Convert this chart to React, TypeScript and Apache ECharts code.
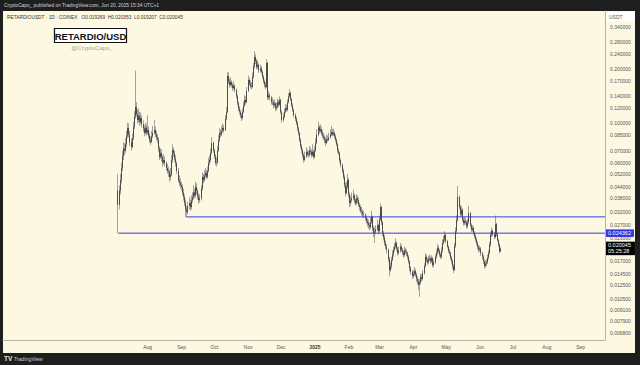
import React, { useEffect, useRef } from "react";
import * as echarts from "echarts";

// Prices below are in units of 0.0001 USDT, one entry per daily candle from 2024-07-05
const UNIT = 1e-4;
const FIRST_DAY_UTC = Date.UTC(2024, 6, 5);
const DAY_MS = 86400000;
const FIRST_OPEN = 420;

const close = [
  350, 420, 481, 560, 650, 720, 700, 760, 850, 935,
  860, 780, 733, 820, 950, 1080, 1222, 1120, 1035, 1090,
  1010, 1062, 980, 930, 877, 940, 880, 911, 850, 800,
  782, 840, 880, 911, 860, 830, 802, 720, 645, 680,
  640, 600, 620, 597, 560, 540, 533, 500, 513, 620,
  706, 680, 630, 597, 540, 480, 463, 450, 440, 410,
  387, 360, 330, 319, 345, 358, 340, 370, 387, 410,
  395, 440, 420, 390, 372, 380, 430, 500, 480, 510,
  526, 500, 540, 597, 620, 680, 772, 700, 650, 597,
  600, 700, 800, 877, 860, 900, 935, 910, 1050, 1147,
  1818, 1700, 1620, 1680, 1620, 1560, 1600, 1520, 1400, 1287,
  1200, 1150, 1100, 1062, 1150, 1250, 1337, 1300, 1500, 1727,
  1650, 1600, 1580, 1800, 2050, 2317, 2200, 2041, 2100, 1950,
  2000, 1913, 1800, 1700, 1620, 1580, 2146, 1380, 1420, 1380,
  1300, 1303, 1250, 1280, 1200, 1222, 1300, 1260, 1337, 1150,
  1035, 1080, 1150, 1207, 1180, 1300, 1400, 1463, 1350, 1250,
  1177, 1100, 1050, 997, 930, 877, 800, 740, 706, 660,
  621, 650, 688, 670, 662, 700, 688, 660, 690, 645,
  700, 772, 860, 945, 900, 920, 877, 850, 824, 800,
  772, 810, 802, 830, 860, 888, 860, 877, 840, 802,
  760, 700, 680, 620, 582, 540, 500, 450, 407, 440,
  481, 400, 358, 370, 382, 395, 370, 358, 380, 372,
  350, 340, 325, 319, 310, 307, 295, 285, 277, 270,
  263, 280, 300, 260, 244, 248, 255, 270, 250, 290,
  340, 280, 244, 230, 215, 205, 197, 175, 152, 160,
  173, 185, 197, 205, 215, 200, 189, 195, 205, 197,
  190, 184, 195, 192, 188, 180, 170, 156, 148, 141,
  145, 150, 143, 136, 132, 126, 130, 139, 136, 146,
  160, 180, 172, 168, 175, 177, 170, 177, 162, 168,
  180, 189, 202, 195, 185, 180, 195, 215, 225, 238,
  220, 205, 195, 189, 178, 171, 160, 152, 207, 250,
  288, 387, 340, 310, 328, 290, 277, 285, 280, 266,
  280, 315, 270, 254, 260, 245, 235, 225, 215, 205,
  197, 200, 188, 180, 170, 160, 165, 168, 178, 189,
  210, 238, 251, 240, 232, 273, 240, 223, 210, 192.69,
  200.45,
];

const high = [
  520, 450, 520, 600, 700, 780, 770, 820, 900, 1000,
  990, 900, 820, 870, 1010, 1160, 1950, 1300, 1180, 1200,
  1150, 1140, 1100, 1030, 970, 1000, 980, 1100, 950, 880,
  840, 900, 960, 1040, 950, 900, 870, 830, 740, 720,
  710, 660, 670, 650, 610, 590, 570, 550, 560, 660,
  760, 730, 700, 660, 610, 560, 510, 490, 470, 455,
  430, 400, 375, 345, 365, 385, 375, 395, 410, 450,
  430, 470, 460, 430, 405, 400, 450, 530, 520, 545,
  560, 545, 570, 640, 660, 720, 830, 790, 720, 670,
  640, 740, 850, 930, 920, 960, 990, 970, 1100, 1220,
  1920, 1900, 1760, 1790, 1720, 1660, 1700, 1640, 1550, 1430,
  1310, 1240, 1180, 1130, 1200, 1310, 1420, 1400, 1580, 1830,
  1780, 1720, 1680, 1900, 2150, 2500, 2400, 2260, 2220, 2150,
  2100, 2060, 1960, 1840, 1740, 1680, 2250, 2180, 1500, 1460,
  1410, 1380, 1340, 1350, 1300, 1290, 1360, 1340, 1400, 1360,
  1170, 1130, 1200, 1270, 1260, 1350, 1460, 1530, 1490, 1380,
  1280, 1200, 1130, 1080, 1020, 950, 890, 820, 760, 720,
  680, 690, 730, 710, 700, 740, 730, 710, 760, 710,
  740, 820, 920, 1010, 970, 980, 950, 910, 880, 850,
  830, 860, 850, 880, 920, 960, 920, 930, 900, 860,
  820, 775, 720, 690, 635, 595, 555, 515, 465, 470,
  520, 495, 410, 395, 410, 425, 405, 380, 400, 395,
  385, 360, 350, 340, 330, 325, 315, 305, 295, 290,
  280, 300, 325, 305, 268, 262, 270, 290, 275, 305,
  355, 345, 285, 250, 238, 222, 212, 200, 180, 168,
  180, 195, 205, 215, 228, 220, 205, 205, 215, 210,
  202, 196, 205, 202, 198, 192, 184, 173, 160, 152,
  152, 158, 154, 147, 140, 136, 135, 145, 144, 152,
  166, 188, 186, 178, 182, 186, 181, 184, 180, 174,
  186, 197, 212, 208, 199, 190, 203, 225, 235, 250,
  242, 224, 208, 199, 192, 182, 174, 164, 215, 262,
  305, 445, 395, 350, 345, 335, 298, 300, 295, 288,
  292, 345, 320, 276, 270, 266, 250, 240, 230, 220,
  210, 208, 204, 192, 184, 174, 172, 175, 185, 196,
  218, 248, 262, 256, 246, 305, 278, 244, 226, 214,
  203.53,
];

const low = [
  243.62, 330, 400, 460, 540, 620, 660, 680, 730, 820,
  830, 740, 700, 720, 800, 920, 1050, 1080, 990, 1000,
  960, 980, 940, 890, 840, 860, 850, 860, 820, 770,
  750, 770, 820, 860, 830, 800, 770, 690, 620, 630,
  610, 570, 585, 570, 540, 520, 500, 470, 480, 505,
  600, 650, 610, 570, 520, 465, 445, 430, 420, 395,
  370, 345, 300, 305, 310, 330, 325, 330, 360, 375,
  380, 385, 400, 375, 355, 360, 370, 420, 460, 470,
  495, 485, 490, 530, 580, 605, 665, 680, 630, 580,
  570, 590, 690, 780, 830, 840, 880, 880, 900, 1030,
  1130, 1640, 1560, 1590, 1570, 1500, 1530, 1470, 1360, 1250,
  1160, 1110, 1060, 1020, 1040, 1130, 1220, 1260, 1280, 1480,
  1600, 1550, 1530, 1560, 1760, 2000, 2120, 1980, 1990, 1890,
  1900, 1860, 1750, 1650, 1570, 1530, 1560, 1340, 1340, 1330,
  1260, 1250, 1200, 1220, 1160, 1170, 1200, 1220, 1240, 1120,
  1000, 1010, 1060, 1130, 1150, 1160, 1280, 1380, 1320, 1220,
  1150, 1070, 1020, 970, 900, 850, 780, 720, 680, 640,
  600, 610, 635, 650, 640, 650, 665, 640, 650, 625,
  635, 690, 760, 840, 870, 880, 850, 820, 800, 770,
  740, 760, 780, 790, 815, 845, 840, 845, 815, 780,
  740, 680, 660, 600, 565, 525, 485, 435, 390, 400,
  430, 385, 340, 345, 360, 370, 355, 345, 350, 355,
  340, 325, 315, 305, 298, 295, 285, 275, 265, 258,
  252, 258, 275, 250, 232, 215, 240, 250, 240, 245,
  285, 270, 235, 222, 208, 198, 188, 168, 140, 148,
  155, 170, 180, 192, 200, 195, 183, 185, 190, 192,
  184, 178, 180, 186, 182, 174, 165, 150, 143, 136,
  137, 141, 139, 130, 126, 118, 108, 126, 131, 133,
  143, 157, 167, 162, 164, 170, 165, 166, 157, 158,
  164, 176, 185, 190, 180, 175, 176, 190, 210, 218,
  214, 200, 189, 183, 173, 165, 154, 146, 150, 202,
  243, 282, 330, 300, 302, 282, 268, 270, 272, 258,
  260, 275, 262, 246, 248, 238, 228, 218, 208, 198,
  190, 192, 182, 174, 164, 155, 156, 160, 164, 174,
  185, 205, 232, 234, 226, 228, 234, 218, 204, 188,
  192.07,
];

const priceTicks = [
  0.34, 0.28, 0.24, 0.2, 0.17, 0.14, 0.12, 0.1, 0.085, 0.07, 0.06, 0.052,
  0.044, 0.038, 0.032, 0.027, 0.023, 0.017, 0.0145, 0.0125, 0.0105, 0.0091,
  0.0079, 0.0068,
];
const monthTicks = [
  "2024-08-01", "2024-09-01", "2024-10-01", "2024-11-01", "2024-12-01",
  "2025-01-01", "2025-02-01", "2025-03-01", "2025-04-01", "2025-05-01",
  "2025-06-01", "2025-07-01", "2025-08-01", "2025-09-01",
];
const monthNames = ["Jan", "Feb", "Mar", "Apr", "May", "Jun", "Jul", "Aug", "Sep", "Oct", "Nov", "Dec"];

const SUPPORT_LEVEL = 0.03;
const SUPPORT_START_DAY = 62;
const BASE_LEVEL = 0.024362;
const BASE_START_DAY = 0;
const LAST_PRICE = 0.020045;
const COUNTDOWN = "05:25:28";

const HEADER = "CryptoCapo_ published on TradingView.com, Jun 20, 2025 15:34 UTC+1";
const LEGEND = "RETARDIOUSDT · 1D · COINEX   O0.019269  H0.020353  L0.019207  C0.020045";
const WATERMARK = "RETARDIO/USD";
const AUTHOR = "@CryptoCapo_";

const X_MIN = Date.UTC(2025, 0, 1) - 285.35 * DAY_MS;
const X_MAX = Date.UTC(2025, 0, 1) + 265.23 * DAY_MS;
const PRICE_MIN = 0.006216;
const PRICE_MAX = 0.4172;

const FONT = "Liberation Sans, Arial, sans-serif";

export default function App() {
  const ref = useRef<HTMLDivElement>(null);

  useEffect(() => {
    if (!ref.current) return;
    const chart = echarts.init(ref.current, null, { renderer: "svg" });
    const lg = (p: number) => Math.log10(p);
    const t = (i: number) => FIRST_DAY_UTC + i * DAY_MS;
    const opens = close.map((c, i) => (i === 0 ? FIRST_OPEN : close[i - 1]));
    const wickData = close.map((_, i) => [
      t(i),
      lg(low[i] * UNIT),
      lg(low[i] * UNIT),
      lg(low[i] * UNIT),
      lg(high[i] * UNIT),
    ]);
    const bodyData = close.map((c, i) => {
      const o = opens[i];
      return [t(i), lg(o * UNIT), lg(c * UNIT), lg(Math.min(o, c) * UNIT), lg(Math.max(o, c) * UNIT)];
    });
    const wickColor = "#a2a29e";
    const bodyColor = "#141414";
    const lineBlue = "#3a3ae6";

    const levelLine = (name: string, startDay: number, level: number) => ({
      type: "line",
      name,
      silent: true,
      clip: false,
      symbol: "none",
      z: 4,
      data: [
        [t(startDay), lg(level)],
        [X_MAX, lg(level)],
      ],
      lineStyle: { color: lineBlue, width: 1, type: "solid" },
      itemStyle: { color: lineBlue },
    });

    const option: any = {
      animation: false,
      backgroundColor: "transparent",
      textStyle: { fontFamily: FONT },
      grid: { left: 3, right: 35, top: 11, bottom: 25, outerBoundsMode: "none" },
      xAxis: {
        type: "value",
        min: X_MIN,
        max: X_MAX,
        splitLine: { show: false },
        axisTick: { show: false },
        axisLine: { show: true, lineStyle: { color: "#b9b5a6", width: 1 } },
        axisLabel: {
          customValues: monthTicks.map((s) => Date.parse(s + "T00:00:00Z")),
          formatter: (v: number) => {
            const d = new Date(v);
            const m = d.getUTCMonth();
            return m === 0 ? `{b|${d.getUTCFullYear()}}` : monthNames[m];
          },
          color: "#555555",
          fontSize: 5,
          fontFamily: FONT,
          margin: 4,
          hideOverlap: false,
          rich: { b: { fontWeight: "bold", fontSize: 5, color: "#333333", fontFamily: FONT } },
        },
      },
      yAxis: {
        type: "value",
        position: "right",
        min: lg(PRICE_MIN),
        max: lg(PRICE_MAX),
        splitLine: { show: false },
        axisTick: { show: false },
        axisLine: { show: true, lineStyle: { color: "#b9b5a6", width: 1 } },
        axisLabel: {
          customValues: priceTicks.map((p) => lg(p)),
          formatter: (v: number) => Math.pow(10, v).toFixed(6),
          color: "#555555",
          fontSize: 5,
          fontFamily: FONT,
          margin: 5,
          hideOverlap: false,
        },
      },
      series: [
        {
          type: "candlestick",
          name: "wicks",
          silent: true,
          clip: false,
          barWidth: 1,
          encode: { x: 0, y: [1, 2, 3, 4] },
          data: wickData,
          itemStyle: {
            color: wickColor,
            color0: wickColor,
            borderColor: wickColor,
            borderColor0: wickColor,
            borderColorDoji: wickColor,
            borderWidth: 1,
          },
          z: 2,
        },
        {
          type: "candlestick",
          name: "bodies",
          silent: true,
          clip: false,
          barWidth: 1.1,
          encode: { x: 0, y: [1, 2, 3, 4] },
          data: bodyData,
          itemStyle: {
            color: bodyColor,
            color0: bodyColor,
            borderColor: bodyColor,
            borderColor0: bodyColor,
            borderColorDoji: bodyColor,
            borderWidth: 0.6,
          },
          z: 3,
          markLine: {
            silent: true,
            symbol: ["none", "none"],
            lineStyle: { color: "rgba(0,0,0,0)", width: 1 },
            label: { show: false },
            data: [
              [
                {
                  coord: [t(BASE_START_DAY), lg(BASE_LEVEL)],
                  label: {
                    show: true,
                    position: "end",
                    distance: 1,
                    formatter: BASE_LEVEL.toFixed(6),
                    color: "#ffffff",
                    backgroundColor: "#3333e0",
                    padding: [1, 3, 0.5, 2],
                    fontSize: 5.5,
                    fontFamily: FONT,
                  },
                },
                { coord: [X_MAX, lg(BASE_LEVEL)] },
              ],
              [
                {
                  coord: [t(close.length - 1), lg(LAST_PRICE)],
                  label: {
                    show: true,
                    position: "end",
                    distance: 1,
                    formatter: LAST_PRICE.toFixed(6) + "\n" + COUNTDOWN,
                    color: "#ffffff",
                    backgroundColor: "#000000",
                    padding: [1, 4, 0.5, 2],
                    fontSize: 5.5,
                    lineHeight: 6,
                    fontFamily: FONT,
                  },
                },
                { coord: [X_MAX, lg(LAST_PRICE)] },
              ],
            ],
          },
        },
        levelLine("support", SUPPORT_START_DAY, SUPPORT_LEVEL),
        levelLine("base", BASE_START_DAY, BASE_LEVEL),
      ],
      graphic: [
        {
          type: "text",
          x: 4,
          y: 5.5,
          style: { text: HEADER, fill: "#d6d6d6", fontSize: 4.8, fontFamily: FONT, textVerticalAlign: "middle" },
        },
        {
          type: "text",
          x: 7,
          y: 17,
          style: { text: LEGEND, fill: "#333333", fontSize: 4.8, fontFamily: FONT, textVerticalAlign: "middle" },
        },
        {
          type: "rect",
          shape: { x: 54.5, y: 28.5, width: 72, height: 14 },
          style: { fill: "#ffffff", stroke: "#111111", lineWidth: 1.2 },
        },
        {
          type: "text",
          x: 90.5,
          y: 36,
          style: {
            text: WATERMARK,
            fill: "#111111",
            fontSize: 9.5,
            fontWeight: "bold",
            fontFamily: FONT,
            textAlign: "center",
            textVerticalAlign: "middle",
          },
        },
        {
          type: "text",
          x: 92,
          y: 47.5,
          style: {
            text: AUTHOR,
            fill: "#a5a5a0",
            fontSize: 6,
            fontFamily: FONT,
            textAlign: "center",
            textVerticalAlign: "middle",
          },
        },
        {
          type: "rect",
          shape: { x: 606, y: 12, width: 29, height: 9 },
          style: { fill: "#ffffff" },
        },
        {
          type: "text",
          x: 609,
          y: 16.8,
          style: { text: "USDT", fill: "#555555", fontSize: 5, fontFamily: FONT, textVerticalAlign: "middle" },
        },
        {
          type: "text",
          x: 4,
          y: 358.5,
          style: {
            text: "TV",
            fill: "#e8e8e8",
            fontSize: 6.5,
            fontWeight: "bold",
            fontFamily: FONT,
            textVerticalAlign: "middle",
          },
        },
        {
          type: "text",
          x: 14,
          y: 358.5,
          style: { text: "TradingView", fill: "#cfcfcf", fontSize: 5.2, fontFamily: FONT, textVerticalAlign: "middle" },
        },
      ],
    };
    chart.setOption(option);
    return () => chart.dispose();
  }, []);

  return (
    <div style={{ position: "fixed", left: 0, top: 0, width: 640, height: 365, background: "#1e1e1e" }}>
      <div style={{ position: "absolute", left: 3, top: 11, width: 632, height: 342, background: "#fdf8e1" }} />
      <div ref={ref} style={{ position: "absolute", left: 0, top: 0, width: 640, height: 365 }} />
    </div>
  );
}
